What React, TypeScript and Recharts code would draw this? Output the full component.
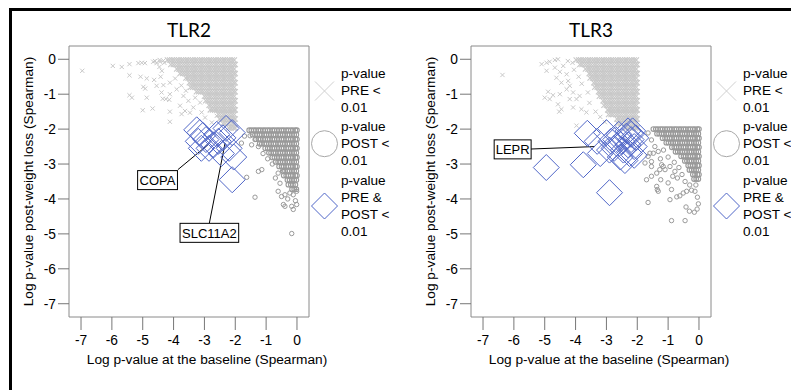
import React from 'react';
import { ScatterChart, Scatter, XAxis, YAxis, ReferenceLine, ReferenceArea } from 'recharts';

// ---------- axes ----------
const X_TICKS = [-7, -6, -5, -4, -3, -2, -1, 0];
const Y_TICKS = [0, -1, -2, -3, -4, -5, -6, -7];
const X_DOMAIN: [number, number] = [-7.39, 0.39];
const Y_DOMAIN: [number, number] = [-7.38, 0.38];

const panelTitles = ['TLR2', 'TLR3'];
const xAxisLabel = 'Log p-value at the baseline (Spearman)';
const yAxisLabel = 'Log p-value post-weight loss (Spearman)';
const legendLabels = [
  ['p-value', 'PRE <', '0.01'],
  ['p-value', 'POST <', '0.01'],
  ['p-value', 'PRE &', 'POST <', '0.01'],
];

type Row = [number, number[]];
type Pt = [number, number];

// ---------- TLR2 ----------
const tlr2PreRows: Row[] = [
  [-0.02, [-4.2, -4.13, -4.05, -3.98, -3.9, -3.83, -3.75, -3.68, -3.6, -3.53, -3.45, -3.38, -3.3, -3.23, -3.15, -3.08, -3.0, -2.93, -2.85, -2.78, -2.7, -2.63, -2.55, -2.48, -2.4, -2.33, -2.25, -2.18, -2.1, -2.03]],
  [-0.15, [-4.09, -4.01, -3.94, -3.86, -3.79, -3.71, -3.64, -3.56, -3.49, -3.41, -3.34, -3.26, -3.19, -3.11, -3.04, -2.96, -2.89, -2.81, -2.74, -2.66, -2.59, -2.51, -2.44, -2.36, -2.29, -2.21, -2.14, -2.06, -2.0]],
  [-0.28, [-3.9, -3.83, -3.75, -3.68, -3.6, -3.53, -3.45, -3.38, -3.3, -3.23, -3.15, -3.08, -3.0, -2.93, -2.85, -2.78, -2.7, -2.63, -2.55, -2.48, -2.4, -2.33, -2.25, -2.18, -2.1, -2.03]],
  [-0.41, [-3.79, -3.71, -3.64, -3.56, -3.49, -3.41, -3.34, -3.26, -3.19, -3.11, -3.04, -2.96, -2.89, -2.81, -2.74, -2.66, -2.59, -2.51, -2.44, -2.36, -2.29, -2.21, -2.14, -2.06, -2.0]],
  [-0.54, [-3.6, -3.53, -3.45, -3.38, -3.3, -3.23, -3.15, -3.08, -3.0, -2.93, -2.85, -2.78, -2.7, -2.63, -2.55, -2.48, -2.4, -2.33, -2.25, -2.18, -2.1, -2.03]],
  [-0.67, [-3.49, -3.41, -3.34, -3.26, -3.19, -3.11, -3.04, -2.96, -2.89, -2.81, -2.74, -2.66, -2.59, -2.51, -2.44, -2.36, -2.29, -2.21, -2.14, -2.06, -2.0]],
  [-0.8, [-3.45, -3.38, -3.3, -3.23, -3.15, -3.08, -3.0, -2.93, -2.85, -2.78, -2.7, -2.63, -2.55, -2.48, -2.4, -2.33, -2.25, -2.18, -2.1, -2.03]],
  [-0.93, [-3.26, -3.19, -3.11, -3.04, -2.96, -2.89, -2.81, -2.74, -2.66, -2.59, -2.51, -2.44, -2.36, -2.29, -2.21, -2.14, -2.06, -2.0]],
  [-1.06, [-3.0, -2.93, -2.85, -2.78, -2.7, -2.63, -2.55, -2.48, -2.4, -2.33, -2.25, -2.18, -2.1, -2.03]],
  [-1.19, [-2.96, -2.89, -2.81, -2.74, -2.66, -2.59, -2.51, -2.44, -2.36, -2.29, -2.21, -2.14, -2.06, -2.0]],
  [-1.32, [-2.85, -2.78, -2.7, -2.63, -2.55, -2.48, -2.4, -2.33, -2.25, -2.18, -2.1, -2.03]],
  [-1.45, [-2.81, -2.74, -2.66, -2.59, -2.51, -2.44, -2.36, -2.29, -2.21, -2.14, -2.06, -2.0]],
  [-1.58, [-2.55, -2.48, -2.4, -2.33, -2.25, -2.18, -2.1, -2.03]],
  [-1.71, [-2.51, -2.44, -2.36, -2.29, -2.21, -2.14, -2.06, -2.0]],
  [-1.84, [-2.4, -2.33, -2.25, -2.18, -2.1, -2.03]],
  [-1.97, [-2.21, -2.14, -2.06, -2.0]],
];
const tlr2PreSparse: Pt[] = [
  [-6.96, -0.33], [-5.97, -0.19], [-5.68, -0.22], [-5.43, -0.14], [-5.14, -0.11], [-5.03, -0.1], [-4.93, -0.11],
  [-5.43, -0.46], [-5.07, -0.5], [-4.87, -0.55], [-4.63, -0.59], [-4.42, -0.5], [-4.38, -0.33], [-4.46, -0.22],
  [-4.98, -0.79], [-4.92, -0.84], [-4.55, -0.76], [-4.33, -0.74], [-4.12, -0.67], [-5.43, -1.03], [-5.35, -1.1],
  [-4.87, -1.1], [-4.35, -1.13], [-4.25, -1.14], [-4.14, -1.16], [-4.39, -0.95], [-4.12, -1.0], [-5.0, -1.46],
  [-4.68, -1.41], [-4.12, -1.5], [-3.79, -1.33], [-3.63, -1.48], [-4.12, -1.79], [-3.74, -1.57], [-3.47, -1.53],
  [-3.36, -1.38], [-3.09, -1.52], [-2.98, -1.67], [-3.14, -1.24], [-3.52, -1.19], [-3.68, -1.05], [-3.9, -0.86],
  [-2.76, -1.81], [-2.6, -1.62], [-4.6, -0.05], [-4.45, -0.02], [-4.3, -0.1], [-3.95, -0.55], [-3.75, -0.75],
  [-3.6, -0.9], [-3.3, -1.1], [-4.66, -0.07], [-4.55, -0.11], [-4.44, -0.07], [-4.33, -0.04],
];
const tlr2PostRows: Row[] = [
  [-2.03, [-1.55, -1.48, -1.4, -1.33, -1.25, -1.18, -1.1, -1.03, -0.95, -0.88, -0.8, -0.73, -0.65, -0.58, -0.5, -0.43, -0.35, -0.28, -0.2, -0.13, -0.05, 0]],
  [-2.16, [-1.44, -1.36, -1.29, -1.21, -1.14, -1.06, -0.99, -0.91, -0.84, -0.76, -0.69, -0.61, -0.54, -0.46, -0.39, -0.31, -0.24, -0.16, -0.09, -0.02]],
  [-2.29, [-1.33, -1.25, -1.18, -1.1, -1.03, -0.95, -0.88, -0.8, -0.73, -0.65, -0.58, -0.5, -0.43, -0.35, -0.28, -0.2, -0.13, -0.05, 0]],
  [-2.42, [-1.21, -1.14, -1.06, -0.99, -0.91, -0.84, -0.76, -0.69, -0.61, -0.54, -0.46, -0.39, -0.31, -0.24, -0.16, -0.09, -0.02]],
  [-2.55, [-1.03, -0.95, -0.88, -0.8, -0.73, -0.65, -0.58, -0.5, -0.43, -0.35, -0.28, -0.2, -0.13, -0.05, 0]],
  [-2.68, [-0.91, -0.84, -0.76, -0.69, -0.61, -0.54, -0.46, -0.39, -0.31, -0.24, -0.16, -0.09, -0.02]],
  [-2.81, [-0.8, -0.73, -0.65, -0.58, -0.5, -0.43, -0.35, -0.28, -0.2, -0.13, -0.05, 0]],
  [-2.94, [-0.69, -0.61, -0.54, -0.46, -0.39, -0.31, -0.24, -0.16, -0.09, -0.02]],
  [-3.07, [-0.58, -0.5, -0.43, -0.35, -0.28, -0.2, -0.13, -0.05, 0]],
  [-3.2, [-0.46, -0.39, -0.31, -0.24, -0.16, -0.09, -0.02]],
  [-3.33, [-0.43, -0.35, -0.28, -0.2, -0.13, -0.05, 0]],
  [-3.46, [-0.31, -0.24, -0.16, -0.09, -0.02]],
  [-3.59, [-0.28, -0.2, -0.13, -0.05]],
  [-3.72, [-0.16, -0.09, -0.02]],
];
const tlr2PostSparse: Pt[] = [
  [-1.7, -2.2], [-1.8, -2.4], [-1.52, -2.19], [-1.36, -2.3], [-1.47, -2.45], [-1.25, -2.5], [-1.1, -2.7],
  [-0.95, -2.85], [-1.25, -3.21], [-1.14, -3.16], [-1.63, -3.38], [-1.36, -3.95], [-0.61, -3.26], [-0.44, -3.21],
  [-0.61, -3.78], [-0.5, -3.93], [-0.39, -3.88], [-0.23, -3.83], [-0.12, -3.88], [-0.01, -3.78], [-0.44, -4.16],
  [-0.17, -4.21], [-0.12, -4.3], [-0.01, -4.16], [-0.39, -4.21], [-0.17, -4.99], [-0.8, -3.0], [-0.7, -3.4],
  [-0.55, -3.55], [-0.3, -4.0], [-0.05, -4.05],
];
const tlr2Both: Pt[] = [
  [-3.25, -2.02], [-3.15, -2.1], [-3.05, -2.18], [-3.2, -2.35], [-2.95, -2.3], [-2.85, -2.55], [-3.1, -2.55],
  [-2.7, -2.45], [-2.55, -2.35], [-2.3, -1.98], [-2.1, -2.1], [-2.45, -2.7], [-2.2, -2.55], [-2.05, -2.8],
  [-2.1, -3.45], [-2.6, -2.15], [-2.4, -2.25],
];
const tlr2Labels = [
  { text: 'COPA', x: -4.52, y: -3.46, from: [-3.86, -3.16], to: [-2.82, -2.4] },
  { text: 'SLC11A2', x: -2.84, y: -4.97, from: [-2.84, -4.69], to: [-2.33, -2.4] },
];

// ---------- TLR3 ----------
const tlr3PreRows: Row[] = [
  [-0.02, [-3.98, -3.9, -3.83, -3.75, -3.68, -3.6, -3.53, -3.45, -3.38, -3.3, -3.23, -3.15, -3.08, -3.0, -2.93, -2.85, -2.78, -2.7, -2.63, -2.55, -2.48, -2.4, -2.33, -2.25, -2.18, -2.1, -2.03]],
  [-0.15, [-3.86, -3.79, -3.71, -3.64, -3.56, -3.49, -3.41, -3.34, -3.26, -3.19, -3.11, -3.04, -2.96, -2.89, -2.81, -2.74, -2.66, -2.59, -2.51, -2.44, -2.36, -2.29, -2.21, -2.14, -2.06, -2.0]],
  [-0.28, [-3.68, -3.6, -3.53, -3.45, -3.38, -3.3, -3.23, -3.15, -3.08, -3.0, -2.93, -2.85, -2.78, -2.7, -2.63, -2.55, -2.48, -2.4, -2.33, -2.25, -2.18, -2.1, -2.03]],
  [-0.41, [-3.56, -3.49, -3.41, -3.34, -3.26, -3.19, -3.11, -3.04, -2.96, -2.89, -2.81, -2.74, -2.66, -2.59, -2.51, -2.44, -2.36, -2.29, -2.21, -2.14, -2.06, -2.0]],
  [-0.54, [-3.53, -3.45, -3.38, -3.3, -3.23, -3.15, -3.08, -3.0, -2.93, -2.85, -2.78, -2.7, -2.63, -2.55, -2.48, -2.4, -2.33, -2.25, -2.18, -2.1, -2.03]],
  [-0.67, [-3.41, -3.34, -3.26, -3.19, -3.11, -3.04, -2.96, -2.89, -2.81, -2.74, -2.66, -2.59, -2.51, -2.44, -2.36, -2.29, -2.21, -2.14, -2.06, -2.0]],
  [-0.8, [-3.38, -3.3, -3.23, -3.15, -3.08, -3.0, -2.93, -2.85, -2.78, -2.7, -2.63, -2.55, -2.48, -2.4, -2.33, -2.25, -2.18, -2.1, -2.03]],
  [-0.93, [-3.26, -3.19, -3.11, -3.04, -2.96, -2.89, -2.81, -2.74, -2.66, -2.59, -2.51, -2.44, -2.36, -2.29, -2.21, -2.14, -2.06, -2.0]],
  [-1.06, [-3.23, -3.15, -3.08, -3.0, -2.93, -2.85, -2.78, -2.7, -2.63, -2.55, -2.48, -2.4, -2.33, -2.25, -2.18, -2.1, -2.03]],
  [-1.19, [-3.11, -3.04, -2.96, -2.89, -2.81, -2.74, -2.66, -2.59, -2.51, -2.44, -2.36, -2.29, -2.21, -2.14, -2.06, -2.0]],
  [-1.32, [-3.08, -3.0, -2.93, -2.85, -2.78, -2.7, -2.63, -2.55, -2.48, -2.4, -2.33, -2.25, -2.18, -2.1, -2.03]],
  [-1.45, [-2.96, -2.89, -2.81, -2.74, -2.66, -2.59, -2.51, -2.44, -2.36, -2.29, -2.21, -2.14, -2.06, -2.0]],
  [-1.58, [-2.93, -2.85, -2.78, -2.7, -2.63, -2.55, -2.48, -2.4, -2.33, -2.25, -2.18, -2.1, -2.03]],
  [-1.71, [-2.66, -2.59, -2.51, -2.44, -2.36, -2.29, -2.21, -2.14, -2.06, -2.0]],
  [-1.84, [-2.63, -2.55, -2.48, -2.4, -2.33, -2.25, -2.18, -2.1, -2.03]],
  [-1.97, [-2.36, -2.29, -2.21, -2.14, -2.06, -2.0]],
];
const tlr3PreSparse: Pt[] = [
  [-6.37, -0.45], [-5.1, -0.14], [-4.94, -0.1], [-4.84, -0.07], [-4.67, -0.02], [-4.57, 0], [-4.94, -0.33],
  [-4.67, -0.24], [-4.51, -0.36], [-4.4, -0.19], [-4.29, -0.43], [-4.62, -0.53], [-4.46, -0.67], [-4.24, -0.62],
  [-4.19, -0.76], [-4.89, -0.93], [-5.0, -1.1], [-4.84, -1.14], [-4.73, -1.03], [-4.51, -1.0], [-4.57, -1.29],
  [-4.46, -1.43], [-4.53, -1.5], [-4.29, -0.86], [-4.08, -0.95], [-4.19, -1.14], [-3.97, -1.14], [-3.87, -1.05],
  [-4.08, -1.38], [-3.81, -1.43], [-3.65, -1.52], [-3.97, -1.9], [-4.25, -0.05], [-4.1, -0.1], [-4.05, -0.3],
  [-3.9, -0.5], [-3.8, -0.7], [-3.6, -0.95], [-3.55, -1.25], [-3.35, -1.5], [-3.2, -1.65], [-3.05, -1.8],
];
const tlr3PostRows: Row[] = [
  [-2.0, [-1.48, -1.4, -1.33, -1.25, -1.18, -1.1, -1.03, -0.95, -0.88, -0.8, -0.73, -0.65, -0.58, -0.5, -0.43, -0.35, -0.28, -0.2, -0.13, -0.05, 0]],
  [-2.13, [-1.36, -1.29, -1.21, -1.14, -1.06, -0.99, -0.91, -0.84, -0.76, -0.69, -0.61, -0.54, -0.46, -0.39, -0.31, -0.24, -0.16, -0.09, -0.02]],
  [-2.26, [-1.18, -1.1, -1.03, -0.95, -0.88, -0.8, -0.73, -0.65, -0.58, -0.5, -0.43, -0.35, -0.28, -0.2, -0.13, -0.05, 0]],
  [-2.39, [-1.06, -0.99, -0.91, -0.84, -0.76, -0.69, -0.61, -0.54, -0.46, -0.39, -0.31, -0.24, -0.16, -0.09, -0.02]],
  [-2.52, [-0.88, -0.8, -0.73, -0.65, -0.58, -0.5, -0.43, -0.35, -0.28, -0.2, -0.13, -0.05, 0]],
  [-2.65, [-0.76, -0.69, -0.61, -0.54, -0.46, -0.39, -0.31, -0.24, -0.16, -0.09, -0.02]],
  [-2.78, [-0.58, -0.5, -0.43, -0.35, -0.28, -0.2, -0.13, -0.05, 0]],
  [-2.91, [-0.46, -0.39, -0.31, -0.24, -0.16, -0.09, -0.02]],
  [-3.04, [-0.35, -0.28, -0.2, -0.13, -0.05, 0]],
  [-3.17, [-0.31, -0.24, -0.16, -0.09, -0.02]],
  [-3.3, [-0.2, -0.13, -0.05, 0]],
  [-3.43, [-0.16, -0.09, -0.02]],
];
const tlr3PostSparse: Pt[] = [
  [-1.65, -2.11], [-1.54, -2.31], [-1.43, -2.5], [-1.59, -2.69], [-1.75, -2.97], [-1.54, -2.93], [-1.65, -2.78],
  [-1.48, -2.69], [-1.32, -2.64], [-1.54, -3.07], [-1.21, -3.02], [-1.1, -3.16], [-0.94, -3.07], [-0.78, -3.21],
  [-1.7, -3.45], [-1.54, -3.35], [-1.37, -3.26], [-1.27, -3.16], [-1.16, -3.07], [-1.37, -3.64], [-1.32, -3.78],
  [-1.0, -3.54], [-0.89, -3.73], [-1.65, -4.1], [-0.94, -4.02], [-0.72, -3.94], [-0.62, -3.91], [-0.51, -3.83],
  [-0.4, -3.78], [-0.24, -3.75], [-0.13, -3.78], [-0.42, -4.23], [-0.31, -4.35], [-0.15, -4.38], [-0.06, -4.29],
  [-0.02, -4.14], [-0.89, -4.62], [-0.45, -4.62], [-1.24, -3.45], [-1.35, -3.73], [-0.8, -2.95], [-0.65, -3.1],
  [-0.55, -3.3], [-0.45, -3.5], [-0.3, -3.6], [-0.7, -3.4], [-0.85, -3.35], [-1.0, -2.8], [-1.15, -2.6],
  [-1.25, -2.85], [-0.1, -3.6], [-0.05, -3.95],
];
const tlr3Both: Pt[] = [
  [-4.95, -3.1], [-3.75, -3.02], [-2.9, -3.82], [-3.62, -2.12], [-3.3, -2.35], [-3.2, -2.7], [-3.0, -2.1],
  [-2.85, -2.35], [-2.75, -2.55], [-2.6, -2.15], [-2.5, -2.35], [-2.45, -2.6], [-2.35, -2.2], [-2.3, -2.45],
  [-2.25, -2.7], [-2.2, -2.3], [-2.15, -2.05], [-2.1, -2.5], [-2.05, -2.25], [-2.1, -2.75], [-2.3, -2.05],
  [-2.55, -2.8], [-2.4, -2.9], [-2.2, -2.15], [-2.7, -2.3], [-2.9, -2.6],
];
const tlr3Labels = [
  { text: 'LEPR', x: -6.04, y: -2.58, from: [-5.45, -2.57], to: [-3.38, -2.5] },
];

// ---------- helpers ----------
const fromRows = (rows: Row[]) => rows.flatMap(([y, xs]) => xs.map((x) => ({ x, y })));
const fromPts = (pts: Pt[]) => pts.map(([x, y]) => ({ x, y }));

const FONT = '"Liberation Sans", Arial, sans-serif';
const CROSS_COLOR = '#c8c8c8';
const CIRCLE_COLOR = '#9a9a9a';
const DIAMOND_COLOR = '#4f66c8';
const FRAME_COLOR = '#8a8a8a';

const makeCross = (s: number, w: number) => (p: any) => {
  const { cx, cy } = p;
  return (
    <path
      d={`M${cx - s},${cy - s}L${cx + s},${cy + s}M${cx - s},${cy + s}L${cx + s},${cy - s}`}
      stroke={CROSS_COLOR}
      strokeWidth={w}
      fill="none"
    />
  );
};
const makeRing = (r: number, w: number) => (p: any) => (
  <circle cx={p.cx} cy={p.cy} r={r} stroke={CIRCLE_COLOR} strokeWidth={w} fill="none" />
);
const CrossDense = makeCross(2.6, 1.1);
const CrossSparse = makeCross(2.1, 1);
const RingDense = makeRing(2.3, 1.1);
const RingSparse = makeRing(2.2, 1);

const Diamond = (p: any) => {
  const { cx, cy } = p;
  const h = 13;
  return (
    <path
      d={`M${cx},${cy - h}L${cx + h},${cy}L${cx},${cy + h}L${cx - h},${cy}Z`}
      stroke={DIAMOND_COLOR}
      strokeWidth={1}
      fill="none"
    />
  );
};
const CHAR_W: Record<string, number> = { C: 722, O: 778, P: 667, A: 667, S: 667, L: 556, E: 667, R: 722, '1': 556, '2': 556 };
const LabelBox = (p: any) => {
  const { cx, cy } = p;
  const text: string = (p.payload && p.payload.text) || p.text || '';
  const w = text.split('').reduce((s, c) => s + (CHAR_W[c] || 600), 0) * 0.013 + 3;
  const h = 19;
  return (
    <g>
      <rect x={cx - w / 2} y={cy - h / 2} width={w} height={h} fill="#fff" stroke="#000" strokeWidth={1} />
      <text x={cx} y={cy + 4.7} textAnchor="middle" fontSize={13} fontFamily={FONT} fill="#000">
        {text}
      </text>
    </g>
  );
};

const LegendBlock = () => {
  const textX = 341;
  const iconX = 324.5;
  const lh = 16.9;
  const starts = [77.7, 131, 185];
  const centers = [91, 143.7, 206];
  return (
    <g fontFamily={FONT} fontSize={13.6} fill="#000">
      <path
        d={`M${iconX - 9.5},${centers[0] - 9.5}L${iconX + 9.5},${centers[0] + 9.5}M${iconX - 9.5},${centers[0] + 9.5}L${iconX + 9.5},${centers[0] - 9.5}`}
        stroke="#d0d0d0"
        strokeWidth={1}
        fill="none"
      />
      <circle cx={iconX} cy={centers[1]} r={13} stroke="#a8a8a8" strokeWidth={1} fill="none" />
      <path
        d={`M${iconX},${centers[2] - 13}L${iconX + 13},${centers[2]}L${iconX},${centers[2] + 13}L${iconX - 13},${centers[2]}Z`}
        stroke={DIAMOND_COLOR}
        strokeWidth={1}
        fill="none"
      />
      {legendLabels.map((lines, gi) =>
        lines.map((ln, li) => (
          <text key={`${gi}-${li}`} x={textX} y={starts[gi] + li * lh}>
            {ln}
          </text>
        ))
      )}
    </g>
  );
};

type XY = { x: number; y: number };

function Panel(props: {
  left: number;
  title: string;
  preDense: XY[];
  preSparse: XY[];
  postDense: XY[];
  postSparse: XY[];
  both: XY[];
  labels: { text: string; x: number; y: number; from: number[]; to: number[] }[];
}) {
  const { left, title, preDense, preSparse, postDense, postSparse, both, labels } = props;
  return (
    <div style={{ position: 'absolute', left, top: 0, width: 395, height: 390 }}>
      <ScatterChart width={395} height={390} margin={{ top: 46, right: 86, bottom: 13, left: 0 }}>
        <XAxis
          type="number"
          dataKey="x"
          domain={X_DOMAIN}
          ticks={X_TICKS}
          interval={0}
          allowDataOverflow
          axisLine={false}
          tickLine={{ stroke: '#777' }}
          tickSize={13}
          tickMargin={5}
          tick={{ fontSize: 13.8, fill: '#000', fontFamily: FONT }}
          height={60}
        />
        <YAxis
          type="number"
          dataKey="y"
          domain={Y_DOMAIN}
          ticks={Y_TICKS}
          interval={0}
          allowDataOverflow
          axisLine={false}
          tickLine={{ stroke: '#777' }}
          tickSize={11}
          tickMargin={2}
          tick={{ fontSize: 13.8, fill: '#000', fontFamily: FONT }}
          width={69}
          label={{
            value: yAxisLabel,
            angle: -90,
            position: 'insideLeft',
            offset: 28,
            style: { textAnchor: 'middle', fontSize: 13.7, fill: '#000', fontFamily: FONT },
          }}
        />
        <ReferenceArea
          x1={X_DOMAIN[0]}
          x2={X_DOMAIN[1]}
          y1={Y_DOMAIN[0]}
          y2={Y_DOMAIN[1]}
          fill="none"
          fillOpacity={0}
          stroke={FRAME_COLOR}
          strokeWidth={1}
          ifOverflow="visible"
        />
        <Scatter data={preDense} shape={CrossDense} isAnimationActive={false} />
        <Scatter data={preSparse} shape={CrossSparse} isAnimationActive={false} />
        <Scatter data={postDense} shape={RingDense} isAnimationActive={false} />
        <Scatter data={postSparse} shape={RingSparse} isAnimationActive={false} />
        <Scatter data={both} shape={Diamond} isAnimationActive={false} />
        {labels.map((l) => (
          <ReferenceLine
            key={l.text}
            segment={[
              { x: l.from[0], y: l.from[1] },
              { x: l.to[0], y: l.to[1] },
            ]}
            stroke="#000"
            strokeWidth={1}
          />
        ))}
        <Scatter data={labels} shape={LabelBox} isAnimationActive={false} />
      </ScatterChart>
      <svg width={395} height={390} style={{ position: 'absolute', left: 0, top: 0, pointerEvents: 'none' }}>
        <text x={189} y={36.5} textAnchor="middle" fontFamily="Lato, sans-serif" fontSize={19} fill="#000">
          {title}
        </text>
        <text x={207} y={364} textAnchor="middle" fontFamily={FONT} fontSize={13.7} fill="#000">
          {xAxisLabel}
        </text>
        <LegendBlock />
      </svg>
    </div>
  );
}

export default function App() {
  return (
    <div
      style={{
        position: 'fixed',
        left: 0,
        top: 0,
        width: 791,
        height: 390,
        overflow: 'hidden',
        background: '#fff',
        fontFamily: FONT,
      }}
    >
      <div
        style={{
          position: 'absolute',
          left: 9,
          top: 8,
          width: 800,
          height: 400,
          border: '3px solid #000',
          boxSizing: 'border-box',
        }}
      />
      <Panel
        left={0}
        title={panelTitles[0]}
        preDense={fromRows(tlr2PreRows)}
        preSparse={fromPts(tlr2PreSparse)}
        postDense={fromRows(tlr2PostRows)}
        postSparse={fromPts(tlr2PostSparse)}
        both={fromPts(tlr2Both)}
        labels={tlr2Labels}
      />
      <Panel
        left={402}
        title={panelTitles[1]}
        preDense={fromRows(tlr3PreRows)}
        preSparse={fromPts(tlr3PreSparse)}
        postDense={fromRows(tlr3PostRows)}
        postSparse={fromPts(tlr3PostSparse)}
        both={fromPts(tlr3Both)}
        labels={tlr3Labels}
      />
    </div>
  );
}
